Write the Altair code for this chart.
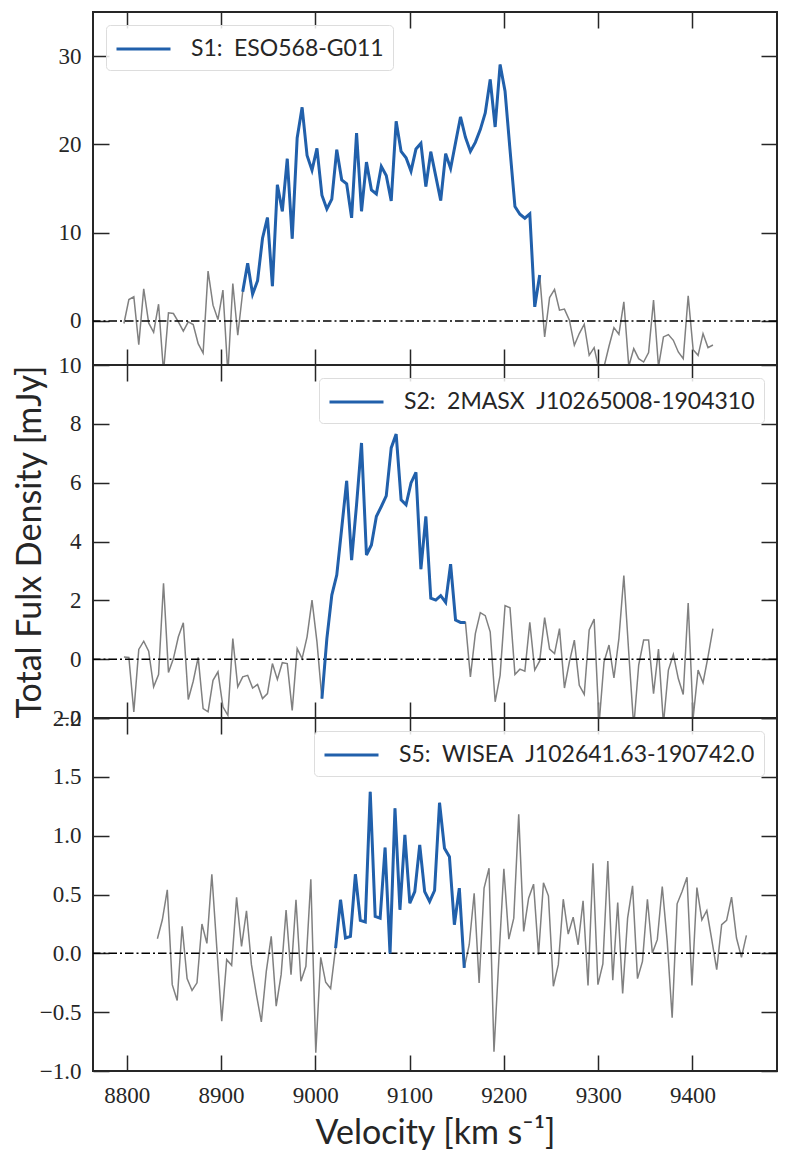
import altair as alt
import pandas as pd

# channel velocities (km/s) for S1 and S2
V_A = [8797.0, 8802.25, 8807.5, 8812.75, 8818.0, 8823.25, 8828.5, 8833.75,
       8839.0, 8844.25, 8849.5, 8854.75, 8860.0, 8865.25, 8870.5, 8875.75,
       8881.0, 8886.25, 8891.5, 8896.75, 8902.0, 8907.25, 8912.5, 8917.75,
       8923.0, 8928.25, 8933.5, 8938.75, 8944.0, 8949.25, 8954.5, 8959.75,
       8965.0, 8970.25, 8975.5, 8980.75, 8986.0, 8991.25, 8996.5, 9001.75,
       9007.0, 9012.25, 9017.5, 9022.75, 9028.0, 9033.25, 9038.5, 9043.75,
       9049.0, 9054.25, 9059.5, 9064.75, 9070.0, 9075.25, 9080.5, 9085.75,
       9091.0, 9096.25, 9101.5, 9106.75, 9112.0, 9117.25, 9122.5, 9127.75,
       9133.0, 9138.25, 9143.5, 9148.75, 9154.0, 9159.25, 9164.5, 9169.75,
       9175.0, 9180.25, 9185.5, 9190.75, 9196.0, 9201.25, 9206.5, 9211.75,
       9217.0, 9222.25, 9227.5, 9232.75, 9238.0, 9243.25, 9248.5, 9253.75,
       9259.0, 9264.25, 9269.5, 9274.75, 9280.0, 9285.25, 9290.5, 9295.75,
       9301.0, 9306.25, 9311.5, 9316.75, 9322.0, 9327.25, 9332.5, 9337.75,
       9343.0, 9348.25, 9353.5, 9358.75, 9364.0, 9369.25, 9374.5, 9379.75,
       9385.0, 9390.25, 9395.5, 9400.75, 9406.0, 9411.25, 9416.5, 9421.75]

# channel velocities (km/s) for S5
V_B = [8832.5, 8837.75, 8843.0, 8848.25, 8853.5, 8858.75, 8864.0, 8869.25,
       8874.5, 8879.75, 8885.0, 8890.25, 8895.5, 8900.75, 8906.0, 8911.25,
       8916.5, 8921.75, 8927.0, 8932.25, 8937.5, 8942.75, 8948.0, 8953.25,
       8958.5, 8963.75, 8969.0, 8974.25, 8979.5, 8984.75, 8990.0, 8995.25,
       9000.5, 9005.75, 9011.0, 9016.25, 9021.5, 9026.75, 9032.0, 9037.25,
       9042.5, 9047.75, 9053.0, 9058.25, 9063.5, 9068.75, 9074.0, 9079.25,
       9084.5, 9089.75, 9095.0, 9100.25, 9105.5, 9110.75, 9116.0, 9121.25,
       9126.5, 9131.75, 9137.0, 9142.25, 9147.5, 9152.75, 9158.0, 9163.25,
       9168.5, 9173.75, 9179.0, 9184.25, 9189.5, 9194.75, 9200.0, 9205.25,
       9210.5, 9215.75, 9221.0, 9226.25, 9231.5, 9236.75, 9242.0, 9247.25,
       9252.5, 9257.75, 9263.0, 9268.25, 9273.5, 9278.75, 9284.0, 9289.25,
       9294.5, 9299.75, 9305.0, 9310.25, 9315.5, 9320.75, 9326.0, 9331.25,
       9336.5, 9341.75, 9347.0, 9352.25, 9357.5, 9362.75, 9368.0, 9373.25,
       9378.5, 9383.75, 9389.0, 9394.25, 9399.5, 9404.75, 9410.0, 9415.25,
       9420.5, 9425.75, 9431.0, 9436.25, 9441.5, 9446.75, 9452.0, 9457.25]

# total flux density (mJy)
S1 = [-0.30, 2.42, 2.73, -2.69, 3.64, -0.23, -1.29, 1.89, -5.8, 0.91,
      0.83, -0.11, -1.17, -0.11, -0.42, -2.58, -3.64, 5.64, 1.78, 0.15,
      3.48, -6.0, 4.24, -1.63, 3.30, 6.52, 3.03, 4.55, 9.36, 11.70,
      3.94, 15.42, 12.42, 18.37, 9.32, 20.72, 24.20, 18.75, 17.08, 19.55,
      14.24, 12.69, 13.79, 19.39, 15.98, 15.53, 11.67, 21.29, 12.42, 17.99,
      14.85, 14.39, 17.50, 16.48, 13.60, 22.61, 19.20, 18.48, 16.97, 19.47,
      20.11, 15.23, 19.17, 16.4, 13.64, 18.94, 17.27, 20.2, 23.11, 20.80,
      19.20, 20.23, 21.67, 23.56, 27.35, 21.97, 29.05, 26.02, 19.4, 12.95,
      12.08, 11.63, 12.12, 1.59, 5.19, -1.82, 2.65, 3.56, 1.21, 1.33,
      0.08, -2.77, -1.44, -0.38, -3.90, -3.03, -5.6, -5.2, -2.88, -0.76,
      -1.52, 2.16, -5.15, -3.14, -4.28, -4.66, -3.60, 2.35, -5.2, -1.82,
      -1.55, -2.20, -3.52, -4.28, 2.84, -3.26, -3.90, -1.44, -3.03, -2.73]

S2 = [0.07, 0.06, -1.79, 0.33, 0.61, 0.27, -0.94, -0.52, 2.58, -0.45,
      0.02, 0.76, 1.24, -1.37, -0.75, 0.06, -1.68, -1.79, -0.72, -0.43,
      -1.62, -1.91, 0.70, -0.94, -0.60, -0.55, -0.98, -0.86, -1.34, -1.17,
      -0.15, -0.69, -0.12, -0.15, -1.74, 0.36, 0.02, 0.76, 2.01, 0.59,
      -1.34, 0.70, 2.18, 2.86, 4.45, 6.06, 3.37, 5.25, 7.35, 3.54,
      3.88, 4.85, 5.19, 5.55, 7.18, 7.65, 5.42, 5.25, 5.99, 6.35,
      3.06, 4.85, 2.07, 2.01, 2.16, 1.93, 3.23, 1.33, 1.25, 1.25,
      -0.60, 0.87, 1.58, 1.48, 0.93, -1.45, -0.55, 1.82, 1.75, -0.52,
      -0.34, -0.41, 1.25, -0.37, -0.06, 1.41, 0.34, 0.19, 1.04, -0.98,
      -0.09, 0.65, -0.89, -1.20, 0.99, 1.36, -2.2, -0.09, 0.48, -0.64,
      0.70, 2.84, 0.2, -2.3, -0.20, 0.65, 0.65, -1.17, 0.34, -2.2,
      -0.37, 0.16, -0.66, -1.20, 1.91, -2.0, -0.37, -0.80, 0.08, 1.04]

S5 = [0.124, 0.285, 0.540, -0.266, -0.401, 0.229, -0.215, -0.316, -0.251, 0.249,
      0.085, 0.672, 0.05, -0.576, -0.054, -0.102, 0.477, 0.059, 0.362, -0.096,
      -0.350, -0.582, -0.153, 0.144, -0.449, -0.181, 0.367, -0.181, 0.455, -0.237,
      -0.110, 0.630, -0.845, -0.034, -0.246, -0.299, 0.045, 0.455, 0.130, 0.144,
      0.672, 0.280, 0.266, 1.373, 0.314, 0.299, 0.898, 0.000, 1.232, 0.370,
      1.006, 0.427, 0.525, 0.921, 0.525, 0.441, 0.534, 1.280, 0.893, 0.822,
      0.243, 0.554, -0.124, 0.073, 0.511, -0.251, 0.554, 0.723, -0.836, -0.04,
      0.718, 0.121, 0.299, 1.181, 0.186, 0.469, 0.588, -0.011, 0.599, 0.489,
      -0.280, -0.096, 0.460, 0.164, 0.308, 0.073, 0.446, -0.274, 0.766, -0.266,
      -0.090, 0.785, -0.229, 0.432, -0.342, 0.299, 0.573, -0.215, -0.068, 0.460,
      0.003, 0.116, 0.568, 0.102, -0.548, 0.421, 0.525, 0.647, -0.274, 0.559,
      0.285, 0.364, 0.116, -0.138, 0.243, 0.280, 0.477, 0.130, -0.034, 0.153]

NAMES = ["S1:\u2002ESO568-G011",
         "S2:\u20022MASX\u2002J10265008-1904310",
         "S5:\u2002WISEA\u2002J102641.63-190742.0"]
# velocity window of the detected line, per source
LINE_LO = [8923.0, 9007.0, 9021.5]
LINE_HI = [9238.0, 9159.25, 9158.0]

X_TICKS = [8800, 8900, 9000, 9100, 9200, 9300, 9400]
X_DOMAIN = [8764.2, 9489.7]
Y_DOMAINS = [[-5, 35], [-2, 10], [-1, 2]]
Y_TICKS = [[0, 10, 20, 30], [-2, 0, 2, 4, 6, 8, 10], [-1.0, -0.5, 0.0, 0.5, 1.0, 1.5, 2.0]]
Y_FORMATS = ["d", "d", ".1f"]
LEGEND_ORIENT = ["top-left", "top-right", "top-right"]

BLUE = "#2160ab"
INK = "#262626"
SERIF = "Liberation Serif"
SANS = "Lato"
TICK = 16


def panel(k, v, f):
    df = pd.DataFrame({"v": v, "f": f, "src": NAMES[k]})
    bottom = k == 2
    middle = k == 1
    xs = alt.Scale(domain=X_DOMAIN, nice=False, zero=False)
    ys = alt.Scale(domain=Y_DOMAINS[k], nice=False, zero=False)

    if bottom:
        ax_x_lab = alt.Axis(orient="bottom", values=X_TICKS, ticks=False, domain=False,
                            grid=False, format="d", labelPadding=13,
                            title="Velocity [km s\u207b\u00b9]", titlePadding=9)
    else:
        ax_x_lab = None
    if middle:
        ax_y_lab = alt.Axis(orient="left", values=Y_TICKS[k], ticks=False, domain=False,
                            grid=False, format=Y_FORMATS[k], labelPadding=12,
                            title="Total Fulx Density [mJy]", titlePadding=9)
    else:
        ax_y_lab = alt.Axis(orient="left", values=Y_TICKS[k], ticks=False, domain=False,
                            grid=False, format=Y_FORMATS[k], labelPadding=12, title=None)
    ax_x_bot = alt.Axis(orient="bottom", values=X_TICKS, ticks=True, tickSize=TICK,
                        offset=-TICK, labels=False, domain=False, grid=False, title=None)
    ax_x_top = alt.Axis(orient="top", values=X_TICKS, ticks=True, tickSize=TICK,
                        offset=-TICK, labels=False, domain=False, grid=False, title=None)
    ax_y_left = alt.Axis(orient="left", values=Y_TICKS[k], ticks=True, tickSize=TICK,
                         offset=-TICK, labels=False, domain=False, grid=False, title=None)
    ax_y_right = alt.Axis(orient="right", values=Y_TICKS[k], ticks=True, tickSize=TICK,
                          offset=-TICK, labels=False, domain=False, grid=False, title=None)

    base = alt.Chart(df)
    gray = base.mark_line(color="gray", strokeWidth=1.5, clip=True).encode(
        x=alt.X("v:Q", scale=xs, axis=ax_x_lab),
        y=alt.Y("f:Q", scale=ys, axis=ax_y_lab),
    )
    zero = alt.Chart(pd.DataFrame({"z": [0]})).mark_rule(
        color="black", strokeWidth=1.5, strokeDash=[8.5, 3, 2, 3]
    ).encode(y=alt.Y("z:Q", scale=ys, axis=ax_y_right))
    blue = base.transform_filter(
        (alt.datum.v >= LINE_LO[k]) & (alt.datum.v <= LINE_HI[k])
    ).mark_line(strokeWidth=3, clip=True).encode(
        x=alt.X("v:Q", scale=xs, axis=ax_x_bot),
        y=alt.Y("f:Q", scale=ys, axis=ax_y_left),
        color=alt.Color("src:N", scale=alt.Scale(domain=[NAMES[k]], range=[BLUE]),
                        legend=alt.Legend(orient=LEGEND_ORIENT[k], title=None, offset=13,
                                          padding=9, fillColor="rgba(255,255,255,0.85)",
                                          strokeColor="#dddddd", cornerRadius=4,
                                          labelFont=SANS, labelFontSize=23, labelLimit=0,
                                          labelColor=INK, labelOffset=32.5,
                                          symbolType="M-2,0L2,0", symbolSize=729,
                                          symbolOffset=13.5, symbolStrokeWidth=3)),
    )
    ghost = base.mark_line(strokeOpacity=0).encode(
        x=alt.X("v:Q", scale=xs, axis=ax_x_top),
        y=alt.Y("f:Q", scale=ys, axis=None),
    )
    return alt.layer(gray, zero, blue, ghost).resolve_axis(
        x="independent", y="independent"
    ).properties(width=684, height=353)


chart = alt.vconcat(
    panel(0, V_A, S1), panel(1, V_A, S2), panel(2, V_B, S5), spacing=0, bounds="flush"
).resolve_scale(
    x="independent", y="independent", color="independent"
).properties(
    padding={"left": 4, "right": 2, "top": 2, "bottom": 2}
).configure_view(
    stroke=INK, strokeWidth=2
).configure_axis(
    labelFont=SERIF, labelFontSize=23, labelColor=INK,
    titleFont=SANS, titleFontSize=34, titleFontWeight="normal", titleColor=INK,
    tickColor=INK, tickWidth=1.5,
    labelOverlap=False, labelFlush=False, labelBound=False,
)

chart.save("out.html", embed_options={"renderer": "svg", "actions": False})
